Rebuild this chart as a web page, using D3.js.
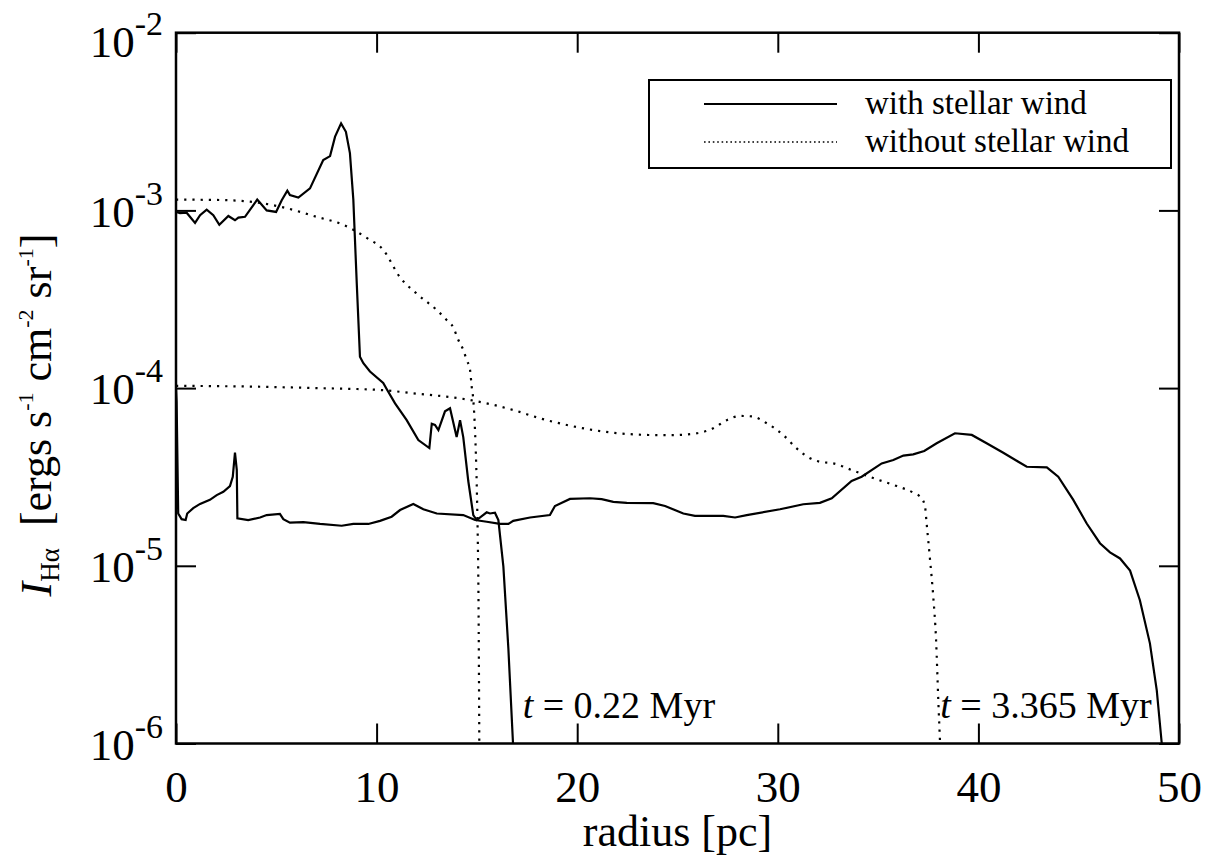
<!DOCTYPE html>
<html lang="en">
<head>
<meta charset="utf-8">
<title>H-alpha intensity profile</title>
<script src="https://d3js.org/d3.v7.min.js"></script>
<style>
  body { margin: 0; background: #fff; }
  svg { display: block; font-family: "Liberation Serif", "Times New Roman", serif; }
  .frame { fill: none; stroke: #000; stroke-width: 2.5px; }
  .tick line { stroke: #000; stroke-width: 2px; }
  .domain { display: none; }
  .solid { fill: none; stroke: #000; stroke-width: 2.2px; }
  .dotted { fill: none; stroke: #000; stroke-width: 2.2px; stroke-dasharray: 2.2 6; }
</style>
</head>
<body>
<script>
// radius [pc], intensity [ergs s^-1 cm^-2 sr^-1]
var windEarly = [[0,9.8e-4],[0.2,9.65e-4],[0.53,9.7e-4],[0.95,8.5e-4],[1.2,9.4e-4],[1.53,1.01e-3],[1.86,9.4e-4],[2.16,8.3e-4],
  [2.61,9.3e-4],[2.94,8.8e-4],[3.11,9.1e-4],[3.44,9.2e-4],[4.05,1.15e-3],[4.52,1.0e-3],[4.99,9.8e-4],[5.27,1.14e-3],
  [5.55,1.29e-3],[5.68,1.22e-3],[6.1,1.18e-3],[6.68,1.33e-3],[7.34,1.92e-3],[7.68,2.02e-3],[7.93,2.6e-3],[8.23,3.09e-3],
  [8.47,2.77e-3],[8.67,2.1e-3],[8.84,1.15e-3],[9.01,3.9e-4],[9.17,1.5e-4],[9.34,1.38e-4],[9.67,1.24e-4],[10.33,1.07e-4],
  [10.53,9.75e-5],[10.92,8.2e-5],[11.5,6.6e-5],[12.08,5.1e-5],[12.63,4.6e-5],[12.75,6.3e-5],[12.91,6.2e-5],[13.08,5.8e-5],
  [13.41,7.4e-5],[13.66,7.7e-5],[13.99,5.3e-5],[14.16,6.6e-5],[14.32,5.3e-5],[14.57,3.0e-5],[14.82,1.93e-5],[14.99,1.81e-5],
  [15.49,2.0e-5],[15.65,1.97e-5],[15.9,1.99e-5],[16.07,1.81e-5],[16.32,9.9e-6],[16.57,3.4e-6],[16.8,1e-6]];

var noWindEarly = [[0,1.15e-3],[2.0,1.145e-3],[3.69,1.12e-3],[5.35,1.04e-3],[7.01,9.2e-4],[8.34,8.3e-4],[9.51,7.0e-4],
  [10.33,6.0e-4],[11.17,4.2e-4],[12.0,3.4e-4],[13.0,2.75e-4],[13.49,2.42e-4],[13.82,2.2e-4],[14.07,1.87e-4],[14.32,1.64e-4],
  [14.49,1.44e-4],[14.66,1.26e-4],[14.74,1.02e-4],[14.82,8.6e-5],[14.91,5.6e-5],[14.99,2.9e-5],[15.04,1.5e-5],[15.08,6.4e-6],[15.12,1e-6]];

var windLate = [[0,1.0e-4],[0.03,8.4e-5],[0.11,1.97e-5],[0.28,1.83e-5],[0.48,1.81e-5],[0.56,1.97e-5],[0.86,2.11e-5],[1.2,2.23e-5],
  [1.69,2.35e-5],[2.03,2.5e-5],[2.36,2.61e-5],[2.69,2.81e-5],[2.83,3.17e-5],[2.94,4.33e-5],[3.03,3.46e-5],[3.06,1.85e-5],
  [3.6,1.81e-5],[4.19,1.87e-5],[4.52,1.93e-5],[5.18,1.96e-5],[5.35,1.83e-5],[5.68,1.75e-5],[6.35,1.76e-5],[7.18,1.72e-5],
  [8.26,1.68e-5],[8.84,1.72e-5],[9.59,1.72e-5],[10.17,1.79e-5],[10.75,1.89e-5],[11.17,2.06e-5],[11.83,2.23e-5],[12.33,2.08e-5],
  [13.0,1.97e-5],[14.32,1.93e-5],[14.91,1.81e-5],[15.49,1.77e-5],[16.15,1.72e-5],[16.57,1.72e-5],[16.81,1.79e-5],[17.65,1.87e-5],
  [18.64,1.93e-5],[18.89,2.17e-5],[19.64,2.38e-5],[20.64,2.4e-5],[21.22,2.37e-5],[21.8,2.29e-5],[22.47,2.26e-5],[23.79,2.25e-5],
  [24.38,2.17e-5],[25.29,1.97e-5],[25.87,1.91e-5],[27.28,1.91e-5],[27.87,1.87e-5],[28.45,1.93e-5],[30.11,2.08e-5],[31.27,2.22e-5],
  [32.1,2.26e-5],[32.69,2.4e-5],[33.68,3.0e-5],[34.18,3.17e-5],[35.18,3.77e-5],[35.76,3.94e-5],[36.26,4.17e-5],[36.75,4.24e-5],
  [37.3,4.43e-5],[37.92,4.89e-5],[38.83,5.57e-5],[39.67,5.45e-5],[40.41,4.89e-5],[41.24,4.33e-5],[41.99,3.85e-5],[42.41,3.61e-5],
  [43.41,3.58e-5],[43.98,3.17e-5],[44.73,2.35e-5],[45.4,1.73e-5],[46.06,1.34e-5],[46.56,1.19e-5],[47.06,1.1e-5],[47.56,9.4e-6],
  [48.05,6.4e-6],[48.55,3.66e-6],[48.89,2.0e-6],[49.14,1e-6]];

var noWindLate = [[0,1.03e-4],[3.69,1.02e-4],[7.0,1.0e-4],[10.17,9.76e-5],[11.83,9.35e-5],[14.66,8.57e-5],[16.81,7.53e-5],
  [18.15,6.76e-5],[19.48,6.2e-5],[21.8,5.61e-5],[23.46,5.45e-5],[24.63,5.43e-5],[25.96,5.57e-5],[26.78,5.94e-5],[27.45,6.6e-5],
  [28.12,6.97e-5],[28.7,6.93e-5],[29.45,6.34e-5],[30.27,5.45e-5],[30.94,4.58e-5],[31.61,4.03e-5],[32.1,3.85e-5],[32.77,3.77e-5],
  [33.76,3.43e-5],[34.93,3.07e-5],[35.93,2.81e-5],[36.75,2.58e-5],[37.17,2.4e-5],[37.34,2.15e-5],[37.42,1.73e-5],[37.59,1.08e-5],
  [37.75,6.7e-6],[37.89,3.82e-6],[38.0,1.76e-6],[38.09,1e-6]];

var xTicks = [0, 10, 20, 30, 40, 50];
var yTicks = [1e-6, 1e-5, 1e-4, 1e-3, 1e-2];
var legendLabels = ["with stellar wind", "without stellar wind"];
var timeLabels = [{r: 17.28, t: "0.22"}, {r: 38.1, t: "3.365"}];

var W = 1212, H = 865;
var mLeft = 176, mRight = 1179, mTop = 32.7, mBottom = 743.5;

var x = d3.scaleLinear().domain([0, 50]).range([mLeft, mRight]);
var y = d3.scaleLog().domain([1e-6, 1e-2]).range([mBottom, mTop]);

var svg = d3.select("body").append("svg").attr("width", W).attr("height", H);

svg.append("defs").append("clipPath").attr("id", "plot")
  .append("rect").attr("x", mLeft).attr("y", mTop).attr("width", mRight - mLeft).attr("height", mBottom - mTop);

// ticks on all four sides, pointing inwards
svg.append("g").attr("transform", "translate(0," + mBottom + ")")
  .call(d3.axisBottom(x).tickValues(xTicks).tickSizeInner(-20).tickSizeOuter(0).tickPadding(27).tickFormat(d3.format("d")))
  .attr("font-family", null).attr("font-size", 45)
  .call(function(g) { g.selectAll("text").attr("fill", "#000"); });
svg.append("g").attr("transform", "translate(0," + mTop + ")")
  .call(d3.axisTop(x).tickValues(xTicks).tickSizeInner(-20).tickSizeOuter(0).tickFormat(""));
svg.append("g").attr("transform", "translate(" + mRight + ",0)")
  .call(d3.axisRight(y).tickValues(yTicks).tickSizeInner(-20).tickSizeOuter(0).tickFormat(""));

var yAxis = svg.append("g").attr("transform", "translate(" + mLeft + ",0)")
  .call(d3.axisLeft(y).tickValues(yTicks).tickSizeInner(-20).tickSizeOuter(0).tickPadding(13))
  .attr("font-family", null).attr("font-size", 45);
yAxis.selectAll(".tick text").each(function(d) {
  var t = d3.select(this).text("").attr("fill", "#000").attr("x", -13)
    .attr("dy", d === 1e-2 ? "0.52em" : "0.35em");
  t.append("tspan").text("10");
  t.append("tspan").attr("font-size", 34).attr("dy", -22).text("-" + Math.round(-Math.log10(d)));
});

// curves
var line = d3.line().x(function(d) { return x(d[0]); }).y(function(d) { return y(d[1]); });
var curves = svg.append("g").attr("clip-path", "url(#plot)");
curves.append("path").datum(noWindEarly).attr("class", "dotted").attr("d", line.curve(d3.curveMonotoneX));
curves.append("path").datum(noWindLate).attr("class", "dotted").attr("d", line.curve(d3.curveMonotoneX));
curves.append("path").datum(windEarly).attr("class", "solid").attr("d", line.curve(d3.curveLinear));
curves.append("path").datum(windLate).attr("class", "solid").attr("d", line.curve(d3.curveLinear));

svg.append("rect").attr("class", "frame")
  .attr("x", mLeft).attr("y", mTop).attr("width", mRight - mLeft).attr("height", mBottom - mTop);

// time labels
timeLabels.forEach(function(l) {
  var t = svg.append("text").attr("x", x(l.r)).attr("y", 718).attr("font-size", 38);
  t.append("tspan").attr("font-style", "italic").text("t");
  t.append("tspan").text(" = " + l.t + " Myr");
});

// legend
var lg = svg.append("g");
lg.append("rect").attr("x", 649).attr("y", 80).attr("width", 522).attr("height", 88)
  .attr("fill", "#fff").attr("stroke", "#000").attr("stroke-width", 2);
lg.append("line").attr("x1", 704).attr("x2", 837).attr("y1", 104).attr("y2", 104)
  .attr("stroke", "#000").attr("stroke-width", 2);
lg.append("line").attr("x1", 704).attr("x2", 837).attr("y1", 142).attr("y2", 142)
  .attr("stroke", "#000").attr("stroke-width", 1.6).attr("stroke-dasharray", "1.6 2.8");
lg.selectAll("text.leg").data(legendLabels).enter().append("text").attr("class", "leg")
  .attr("x", 865).attr("y", function(d, i) { return 114 + i * 38; })
  .attr("font-size", 33).text(function(d) { return d; });

// axis titles
svg.append("text").attr("x", (mLeft + mRight) / 2).attr("y", 846).attr("text-anchor", "middle")
  .attr("font-size", 44).text("radius [pc]");

var yl = svg.append("text").attr("transform", "translate(51,415) rotate(-90)")
  .attr("text-anchor", "middle").attr("font-size", 44);
yl.append("tspan").attr("font-style", "italic").text("I");
yl.append("tspan").attr("font-size", 27).attr("dy", 8).text("H\u03b1");
yl.append("tspan").attr("dy", -8).text("\u00a0 [ergs s");
yl.append("tspan").attr("font-size", 22).attr("dy", -18).text("-1");
yl.append("tspan").attr("dy", 18).text(" cm");
yl.append("tspan").attr("font-size", 22).attr("dy", -18).text("-2");
yl.append("tspan").attr("dy", 18).text(" sr");
yl.append("tspan").attr("font-size", 22).attr("dy", -18).text("-1");
yl.append("tspan").attr("dy", 18).text("]");
</script>
</body>
</html>
